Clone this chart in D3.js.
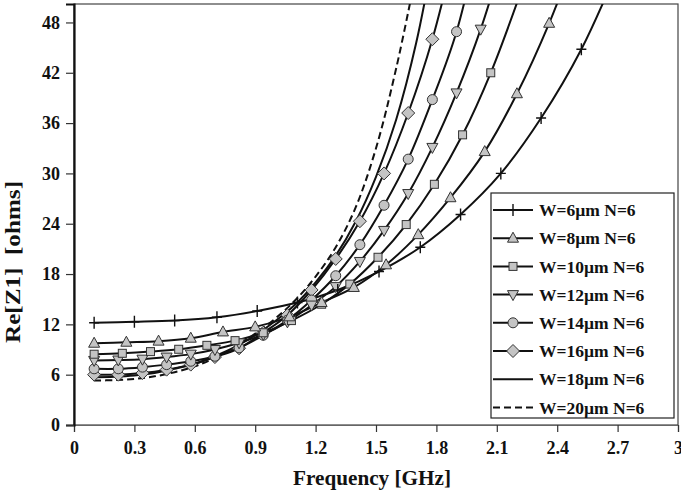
<!DOCTYPE html>
<html><head><meta charset="utf-8">
<script src="https://cdn.jsdelivr.net/npm/d3@7"></script>
<style>body{margin:0;background:#fff}svg{display:block}</style>
</head><body>
<svg id="c" width="681" height="498"></svg>
<script>
// ---- data ----
const xTicks = [0, 0.3, 0.6, 0.9, 1.2, 1.5, 1.8, 2.1, 2.4, 2.7, 3];
const yTicks = [0, 6, 12, 18, 24, 30, 36, 42, 48];
const seriesNames = ["W=6µm N=6","W=8µm N=6","W=10µm N=6","W=12µm N=6","W=14µm N=6","W=16µm N=6","W=18µm N=6","W=20µm N=6"];
const markerTypes = ["plus","triangle","square","triangleDown","circle","diamond","none","none"];

const xW6  = [0.1,0.3,0.5,0.71,0.91,1.11,1.31,1.515,1.72,1.92,2.12,2.32,2.52,2.72];
const yW6  = [12.2,12.3,12.45,12.85,13.6,14.6,16.1,18.3,21.2,25.1,30.0,36.6,44.8,55.5];
const xW8  = [0.1,0.26,0.42,0.58,0.74,0.9,1.07,1.23,1.39,1.55,1.71,1.87,2.04,2.2,2.36,2.52];
const yW8  = [9.75,9.87,10.0,10.35,11.1,11.7,12.9,14.6,16.4,19.1,22.7,27.1,32.6,39.5,47.9,58];
const xW10 = [0.1,0.24,0.38,0.52,0.66,0.8,0.94,1.08,1.23,1.37,1.51,1.65,1.79,1.93,2.07,2.21];
const yW10 = [8.44,8.55,8.75,9.03,9.5,10.06,11.0,12.45,14.4,16.8,20.0,23.9,28.7,34.6,42.0,51.0];
const xW12 = [0.1,0.22,0.34,0.46,0.58,0.7,0.82,0.94,1.06,1.18,1.3,1.42,1.54,1.66,1.78,1.9,2.02,2.14];
const yW12 = [7.7,7.75,7.85,8.1,8.45,9.0,9.8,10.8,12.3,14.3,16.5,19.5,23.2,27.6,33.1,39.6,47.2,56.5];
const xW14 = [0.1,0.22,0.34,0.46,0.58,0.7,0.82,0.94,1.06,1.18,1.3,1.42,1.54,1.66,1.78,1.9,2.02];
const yW14 = [6.7,6.7,6.9,7.2,7.6,8.2,9.2,10.7,12.5,14.9,17.8,21.5,26.2,31.7,38.8,46.9,59];
const xW16 = [0.1,0.22,0.34,0.46,0.58,0.7,0.82,0.94,1.06,1.18,1.3,1.42,1.54,1.66,1.78,1.9];
const yW16 = [6.0,6.0,6.2,6.6,7.2,8.1,9.15,11.0,13.1,16.1,19.8,24.3,30.0,37.2,46.0,57.5];
const xW18 = [0.1,0.2,0.3,0.4,0.5,0.6,0.7,0.8,0.9,1.0,1.1,1.2,1.3,1.4,1.5,1.6,1.7,1.8];
const yW18 = [5.7,5.75,5.9,6.2,6.7,7.3,8.2,9.3,10.7,12.4,14.4,17.0,20.2,24.3,29.6,36.4,45.6,58];
const xW20 = [0.1,0.2,0.3,0.4,0.5,0.6,0.7,0.8,0.9,1.0,1.1,1.2,1.3,1.4,1.5,1.6,1.7];
const yW20 = [5.3,5.35,5.5,5.8,6.3,7.0,8.0,9.3,10.9,12.7,14.9,17.7,21.2,26.0,33.0,42.5,54.0];

const xs = [xW6,xW8,xW10,xW12,xW14,xW16,xW18,xW20];
const ys = [yW6,yW8,yW10,yW12,yW14,yW16,yW18,yW20];

// ---- layout ----
const L = 74, R = 678, T = 4, B = 425;
const svg = d3.select("#c");
const x = d3.scaleLinear().domain([0, 3]).range([L, R]);
const y = d3.scaleLinear().domain([0, 50.2]).range([B, T]);
const font = "'Liberation Serif','Times New Roman',serif";
const mFill = "#c4c4c4", mStroke = "#333";

svg.append("defs").append("clipPath").attr("id","clip")
  .append("rect").attr("x",L).attr("y",T).attr("width",R-L).attr("height",B-T);

// frame
svg.append("rect").attr("x",L).attr("y",T).attr("width",R-L).attr("height",B-T)
  .attr("fill","none").attr("stroke","#444").attr("stroke-width",1.2);

// axes
const xAxis = svg.append("g").attr("transform",`translate(0,${B})`)
  .call(d3.axisBottom(x).tickValues(xTicks).tickSize(7).tickFormat(d=>d===0?"0":d3.format("")(+d.toFixed(1))));
xAxis.select(".domain").attr("stroke","#666").attr("stroke-width",1.2);
xAxis.selectAll(".tick line").attr("stroke","#333").attr("stroke-width",1.2);
xAxis.selectAll("text").attr("font-family",font).attr("font-weight","bold").attr("font-size",18).attr("fill","#111").attr("dy","1.05em");

const yAxis = svg.append("g").attr("transform",`translate(${L},0)`)
  .call(d3.axisLeft(y).tickValues(yTicks).tickSize(8).tickPadding(6));
yAxis.select(".domain").attr("stroke","#111").attr("stroke-width",2.2);
yAxis.selectAll(".tick line").attr("stroke","#333").attr("stroke-width",1.2);
yAxis.selectAll("text").attr("font-family",font).attr("font-weight","bold").attr("font-size",18).attr("fill","#111");

// titles
svg.append("text").attr("x",372).attr("y",485).attr("text-anchor","middle")
  .attr("font-family",font).attr("font-weight","bold").attr("font-size",21).attr("fill","#111")
  .attr("textLength",158).attr("lengthAdjust","spacingAndGlyphs")
  .text("Frequency [GHz]");
svg.append("text").attr("transform","translate(20,262) rotate(-90)").attr("text-anchor","middle")
  .attr("font-family",font).attr("font-weight","bold").attr("font-size",21).attr("fill","#111")
  .attr("textLength",162).attr("lengthAdjust","spacingAndGlyphs")
  .attr("xml:space","preserve").text("Re[Z1]  [ohms]");

// markers
function drawMarker(g, type, cx, cy) {
  if (type === "plus") {
    g.append("path").attr("d",`M${cx-5},${cy}H${cx+5}M${cx},${cy-6}V${cy+6}`)
      .attr("stroke","#111").attr("stroke-width",1.4).attr("fill","none");
  } else if (type === "triangle") {
    g.append("path").attr("d",`M${cx},${cy-6}L${cx+5.5},${cy+4}L${cx-5.5},${cy+4}Z`)
      .attr("fill",mFill).attr("stroke",mStroke).attr("stroke-width",1);
  } else if (type === "triangleDown") {
    g.append("path").attr("d",`M${cx},${cy+6}L${cx+5.5},${cy-4}L${cx-5.5},${cy-4}Z`)
      .attr("fill",mFill).attr("stroke",mStroke).attr("stroke-width",1);
  } else if (type === "square") {
    g.append("rect").attr("x",cx-4).attr("y",cy-4).attr("width",8).attr("height",8)
      .attr("fill",mFill).attr("stroke",mStroke).attr("stroke-width",1);
  } else if (type === "circle") {
    g.append("circle").attr("cx",cx).attr("cy",cy).attr("r",5)
      .attr("fill",mFill).attr("stroke",mStroke).attr("stroke-width",1);
  } else if (type === "diamond") {
    g.append("path").attr("d",`M${cx},${cy-6.5}L${cx+6.5},${cy}L${cx},${cy+6.5}L${cx-6.5},${cy}Z`)
      .attr("fill",mFill).attr("stroke",mStroke).attr("stroke-width",1);
  }
}

const plot = svg.append("g").attr("clip-path","url(#clip)");
const line = d3.line().x(d=>x(d[0])).y(d=>y(d[1])).curve(d3.curveCatmullRom.alpha(0.5));

for (let i = seriesNames.length - 1; i >= 0; i--) {
  const pts = xs[i].map((v,k)=>[v, ys[i][k]]);
  plot.append("path").datum(pts).attr("d",line).attr("fill","none")
    .attr("stroke","#111").attr("stroke-width",2)
    .attr("stroke-dasharray", i===7 ? "7,4" : null);
}
for (let i = seriesNames.length - 1; i >= 0; i--) {
  if (markerTypes[i] === "none") continue;
  const g = plot.append("g");
  xs[i].forEach((v,k)=>drawMarker(g, markerTypes[i], x(v), y(ys[i][k])));
}

// legend
const lg = svg.append("g");
lg.append("rect").attr("x",491).attr("y",193).attr("width",183).attr("height",225)
  .attr("fill","#fff").attr("stroke","#222").attr("stroke-width",1.2);
seriesNames.forEach((name,i)=>{
  const cy = 210 + i*28.2;
  lg.append("line").attr("x1",493).attr("x2",533).attr("y1",cy).attr("y2",cy)
    .attr("stroke","#111").attr("stroke-width",2).attr("stroke-dasharray", i===7 ? "7,4" : null);
  drawMarker(lg, markerTypes[i], 513, cy);
  lg.append("text").attr("x",539).attr("y",cy).attr("dy","0.35em")
    .attr("font-family",font).attr("font-weight","bold").attr("font-size",17.5).attr("fill","#111")
    .text(name);
});
</script>
</body></html>
